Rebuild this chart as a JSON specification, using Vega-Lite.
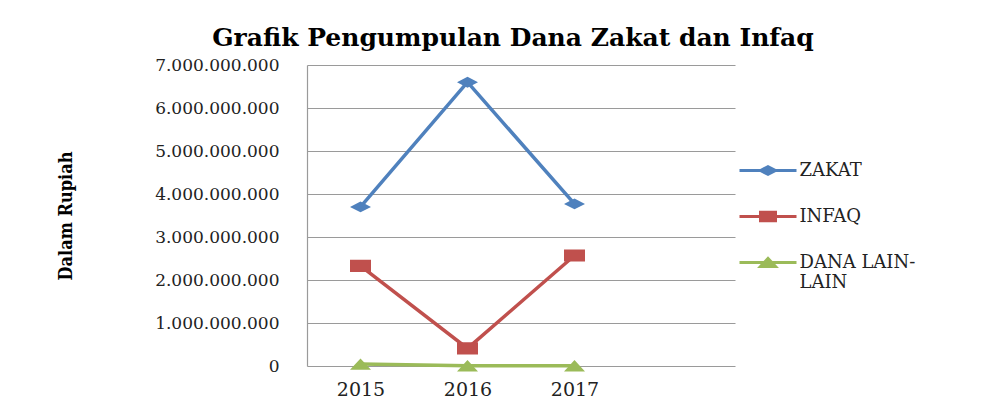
{
  "$schema": "https://vega.github.io/schema/vega-lite/v6.json",
  "autosize": "none",
  "width": 428,
  "height": 301,
  "padding": {"left": 307, "top": 65, "right": 267, "bottom": 34},
  "background": "white",
  "config": {"view": {"stroke": null}},
  "title": {
    "text": "Grafik Pengumpulan Dana Zakat dan Infaq",
    "font": "DejaVu Serif",
    "fontSize": 25,
    "fontWeight": "bold",
    "color": "black",
    "anchor": "middle",
    "offset": 5,
    "dx": -8
  },
  "data": {
    "values": [
      {"tahun": "2015", "seri": "ZAKAT", "nilai": 3700000000},
      {"tahun": "2016", "seri": "ZAKAT", "nilai": 6600000000},
      {"tahun": "2017", "seri": "ZAKAT", "nilai": 3770000000},
      {"tahun": "2015", "seri": "INFAQ", "nilai": 2330000000},
      {"tahun": "2016", "seri": "INFAQ", "nilai": 410000000},
      {"tahun": "2017", "seri": "INFAQ", "nilai": 2570000000},
      {"tahun": "2015", "seri": "DANA LAIN-LAIN", "nilai": 45000000},
      {"tahun": "2016", "seri": "DANA LAIN-LAIN", "nilai": 5000000},
      {"tahun": "2017", "seri": "DANA LAIN-LAIN", "nilai": 5000000}
    ]
  },
  "encoding": {
    "x": {
      "field": "tahun",
      "type": "ordinal",
      "scale": {"type": "point", "domain": ["2015", "2016", "2017", " "], "padding": 0.5},
      "axis": {
        "title": null,
        "labelAngle": 0,
        "labelFont": "DejaVu Serif",
        "labelFontSize": 19,
        "labelColor": "#222222",
        "labelPadding": 14,
        "domain": false,
        "ticks": false,
        "grid": false
      }
    },
    "y": {
      "field": "nilai",
      "type": "quantitative",
      "scale": {"domain": [0, 7000000000], "nice": false, "zero": true},
      "axis": {
        "title": "Dalam Rupiah",
        "titleFont": "DejaVu Serif Condensed, Liberation Serif",
        "titleFontSize": 18,
        "titleFontWeight": "bold",
        "titleColor": "black",
        "titleX": -232,
        "titleBaseline": "bottom",
        "values": [0, 1000000000, 2000000000, 3000000000, 4000000000, 5000000000, 6000000000, 7000000000],
        "labelExpr": "replace(format(datum.value, ','), regexp(',', 'g'), '.')",
        "labelFont": "DejaVu Serif",
        "labelFontSize": 17,
        "labelColor": "#222222",
        "labelPadding": 28,
        "ticks": false,
        "domain": true,
        "domainColor": "#9a9a9a",
        "domainWidth": 1.2,
        "grid": true,
        "gridColor": "#9a9a9a",
        "gridWidth": 1.2
      }
    },
    "color": {
      "field": "seri",
      "type": "nominal",
      "scale": {
        "domain": ["ZAKAT", "INFAQ", "DANA LAIN-LAIN"],
        "range": ["#4F81BD", "#C0504D", "#9BBB59"]
      },
      "legend": {
        "title": null,
        "orient": "none",
        "legendX": 444.5,
        "legendY": 89,
        "padding": 0,
        "symbolSize": 900,
        "symbolStrokeWidth": 3,
        "symbolOpacity": 1,
        "labelFont": "DejaVu Serif",
        "labelFontSize": 18,
        "labelColor": "#222222",
        "labelOffset": 15,
        "rowPadding": 19,
        "labelExpr": "datum.label == 'DANA LAIN-LAIN' ? ['DANA LAIN-', 'LAIN'] : datum.label"
      }
    }
  },
  "layer": [
    {"mark": {"type": "line", "strokeWidth": 3.5}},
    {
      "mark": {"type": "point", "filled": true, "opacity": 1, "size": 1764, "strokeWidth": 0},
      "encoding": {
        "shape": {
          "field": "seri",
          "type": "nominal",
          "scale": {
            "domain": ["ZAKAT", "INFAQ", "DANA LAIN-LAIN"],
            "range": [
              "M-1.9,0H1.9M-0.5,0L0,-0.26L0.5,0L0,0.26Z",
              "M-1.9,0H1.9M-0.5,-0.29H0.5V0.29H-0.5Z",
              "M-1.9,0H1.9M-0.5,0.27L0,-0.27L0.5,0.27Z"
            ]
          },
          "legend": null
        }
      }
    }
  ]
}
